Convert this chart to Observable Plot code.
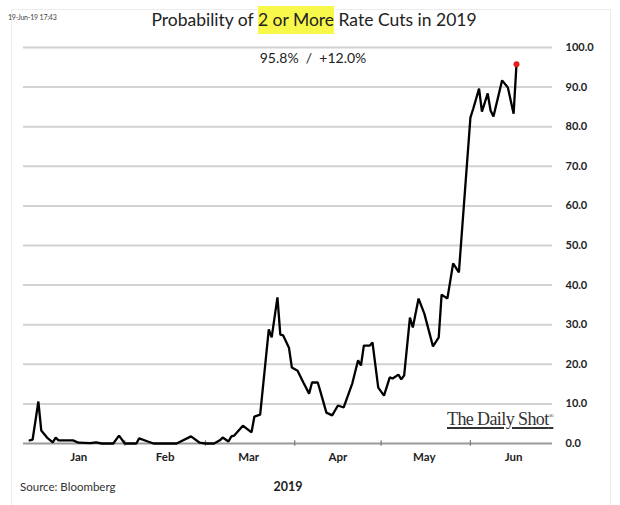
<!DOCTYPE html>
<html><head><meta charset="utf-8">
<script src="https://cdn.jsdelivr.net/npm/d3@7"></script>
<script src="https://cdn.jsdelivr.net/npm/@observablehq/plot@0.6"></script>
<style>
body{margin:0;background:#fff;}
#wrap{position:relative;width:620px;height:505px;font-family:Lato,"Open Sans",sans-serif;color:#222;overflow:hidden;}
#frame{position:absolute;left:11px;top:9px;width:598px;height:505px;border:1px solid #ececec;}
#chart{position:absolute;left:0;top:0;}
#stamp{position:absolute;left:8px;top:13px;font-size:7px;color:#444;letter-spacing:-0.2px;}
#title{position:absolute;left:0;width:620px;top:9px;text-align:center;font-size:17.5px;color:#222;padding-left:4px;}
#title .hl{background:#f8f84a;padding:3px 0 4px 0;}
#sub{position:absolute;left:233px;width:160px;top:49px;text-align:center;font-size:14px;background:#fff;color:#222;}
#logo{position:absolute;left:447px;top:409px;font-family:"Liberation Serif","DejaVu Serif",serif;font-size:18px;color:#333;text-decoration:underline;text-decoration-thickness:1.5px;text-underline-offset:2px;letter-spacing:-0.6px;}
#logo sup{font-size:7px;text-decoration:none;}
#xlabel{position:absolute;left:263px;width:50px;top:479px;text-align:center;font-weight:bold;font-size:12.5px;}
#source{position:absolute;left:20px;top:480px;font-size:11.5px;color:#333;}
</style></head><body>
<div id="wrap">
<div id="frame"></div>
<div id="chart"></div>
<div id="stamp">19-Jun-19 17:43</div>
<div id="title">Probability of <span class="hl">2 or More</span> Rate Cuts in 2019</div>
<div id="sub">95.8% &nbsp;/ &nbsp;+12.0%</div>
<div id="logo">The Daily Shot<sup>®</sup></div>
<div id="xlabel">2019</div>
<div id="source">Source: Bloomberg</div>
</div>
<script>
const dates = [
"2018-12-30","2018-12-31","2019-01-02","2019-01-03","2019-01-05","2019-01-07","2019-01-08","2019-01-09","2019-01-11","2019-01-14",
"2019-01-16","2019-01-20","2019-01-22","2019-01-24","2019-01-28","2019-01-30","2019-02-01","2019-02-05","2019-02-06","2019-02-09",
"2019-02-11","2019-02-19","2019-02-24","2019-02-27","2019-03-01","2019-03-04","2019-03-06","2019-03-07","2019-03-09","2019-03-10",
"2019-03-11","2019-03-14","2019-03-17","2019-03-18","2019-03-20","2019-03-23","2019-03-24","2019-03-26","2019-03-27","2019-03-28",
"2019-03-30","2019-03-31","2019-04-02","2019-04-04","2019-04-06","2019-04-07","2019-04-09","2019-04-10","2019-04-12","2019-04-14",
"2019-04-16","2019-04-18","2019-04-21","2019-04-23","2019-04-24","2019-04-25","2019-04-27","2019-04-28","2019-04-30","2019-05-02",
"2019-05-04","2019-05-05","2019-05-07","2019-05-08","2019-05-09","2019-05-11","2019-05-12","2019-05-14","2019-05-16","2019-05-18",
"2019-05-19","2019-05-21","2019-05-22","2019-05-23","2019-05-24","2019-05-26","2019-05-28","2019-06-01","2019-06-02","2019-06-04",
"2019-06-05","2019-06-07","2019-06-08","2019-06-09","2019-06-12","2019-06-14","2019-06-16","2019-06-17"
];
const probability = [
0.8,1.0,10.6,3.3,1.5,0.3,1.5,0.8,0.8,0.8,
0.2,0.1,0.3,0.0,0.0,2.0,0.0,0.0,1.3,0.5,
0.0,0.0,1.8,0.2,0.0,0.0,0.8,1.5,0.5,1.8,
2.0,4.5,2.8,6.8,7.3,28.8,26.8,36.9,27.5,27.3,
24.2,19.2,18.4,15.4,12.6,15.4,15.4,12.9,7.8,7.1,
9.6,9.1,15.2,21.0,19.7,24.7,24.7,25.5,14.1,12.1,
16.7,16.4,17.4,16.2,17.2,31.8,29.3,36.6,32.8,27.3,
24.5,26.8,37.6,37.1,36.6,45.5,43.2,82.3,84.6,89.6,
83.8,88.4,84.1,82.6,91.7,89.9,83.3,95.8
];
const monthLabels = ["2019-01-16","2019-02-15","2019-03-16","2019-04-16","2019-05-16","2019-06-16"];
const monthStarts = ["2019-02-01","2019-03-01","2019-04-01","2019-05-01","2019-06-01"];
const yTicks = [0,10,20,30,40,50,60,70,80,90,100];

const data = dates.map((d, i) => ({date: new Date(d), value: probability[i]}));
const last = data[data.length - 1];

const chart = Plot.plot({
  width: 620,
  height: 505,
  marginLeft: 23,
  marginRight: 68,
  marginTop: 47,
  marginBottom: 62,
  style: {background: "transparent", fontFamily: "Lato, 'Open Sans', sans-serif"},
  x: {type: "utc", domain: [new Date(Date.UTC(2018, 11, 27, 20)), new Date(Date.UTC(2019, 5, 29, 12))]},
  y: {domain: [0, 100]},
  marks: [
    Plot.ruleY(yTicks.filter(v => v > 0), {stroke: "#d2d2d2", strokeWidth: 2}),
    Plot.ruleY([0], {stroke: "#999", strokeWidth: 2}),
    Plot.ruleX(monthStarts.map(d => new Date(d)), {y1: -0.7, y2: 0.7, stroke: "#777", strokeWidth: 1.2}),
    Plot.axisX(monthLabels.map(d => new Date(d)), {tickSize: 0, tickPadding: 9, tickFormat: d3.utcFormat("%b"), fontWeight: "bold", fontSize: 11.5, fill: "#222", label: null}),
    Plot.axisY(yTicks, {anchor: "right", tickSize: 0, tickPadding: 13, textAnchor: "start", tickFormat: d3.format(".1f"), fontWeight: "bold", fontSize: 11, fill: "#222", label: null}),
    Plot.line(data, {x: "date", y: "value", stroke: "#000", strokeWidth: 2.3, strokeLinejoin: "miter"}),
    Plot.dot([last], {x: "date", y: "value", r: 3, fill: "#e0201b", stroke: "none"})
  ]
});
document.getElementById("chart").appendChild(chart);
</script>
</body></html>
